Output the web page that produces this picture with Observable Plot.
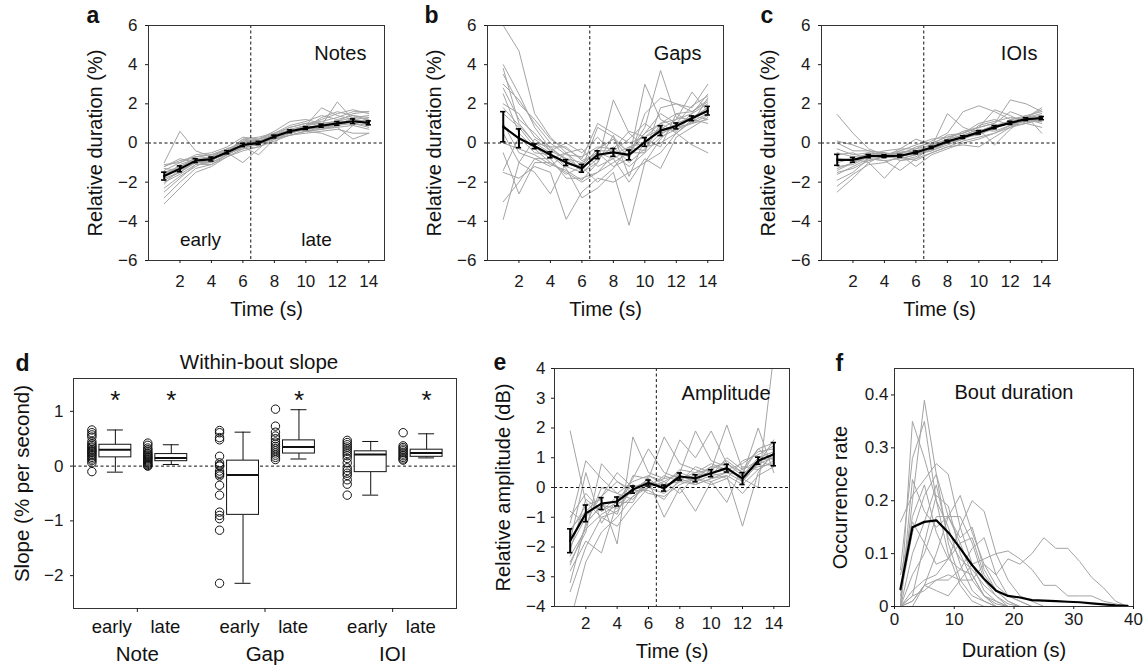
<!DOCTYPE html>
<html><head><meta charset="utf-8">
<script src="https://cdn.jsdelivr.net/npm/d3@7"></script>
<script src="https://cdn.jsdelivr.net/npm/@observablehq/plot@0.6"></script>
<style>
body{margin:0;background:#fff;}
#fig{position:relative;width:1146px;height:667px;background:#fff;overflow:hidden;}
.panel{position:absolute;}
.panel svg{display:block;max-width:none;background:transparent;}
</style></head><body><div id="fig"></div>
<script>
// ---------- data ----------
const time = [1,2,3,4,5,6,7,8,9,10,11,12,13,14];
const timeTicks = [2,4,6,8,10,12,14];

const notesMean = [-1.69,-1.32,-0.9,-0.82,-0.47,-0.1,0.0,0.33,0.6,0.76,0.88,1.0,1.11,1.03];
const notesErr  = [0.2,0.15,0.1,0.1,0.08,0.08,0.08,0.07,0.07,0.07,0.08,0.1,0.12,0.1];
const notesTraces = [
  [-1.2,-0.9,-0.7,-0.6,-0.3,0.0,0.1,0.4,0.7,0.9,1.0,1.1,1.3,1.2],
  [-2.0,-1.6,-1.1,-1.0,-0.6,-0.2,-0.1,0.3,0.5,0.7,0.9,1.0,1.1,1.0],
  [-3.1,-2.3,-1.5,-1.2,-0.7,-0.3,-0.2,0.2,0.5,0.7,0.8,0.9,1.0,0.9],
  [-1.0,0.6,-0.4,-0.7,-0.4,0.2,0.1,0.4,0.8,1.0,1.1,1.3,1.6,1.6],
  [-1.5,-1.2,-0.8,-0.9,-0.5,-1.0,-0.3,0.4,0.6,0.8,0.9,2.1,1.2,1.0],
  [-2.8,-2.0,-1.3,-1.1,-0.6,-0.2,-0.6,0.2,0.4,0.6,0.7,0.8,0.9,0.7],
  [-1.4,-1.0,-0.6,-0.5,-0.2,0.3,0.2,0.5,0.9,1.1,1.4,1.2,1.4,1.3],
  [-1.8,-1.5,-1.0,-0.9,-0.5,-0.1,0.0,0.0,0.7,0.6,0.8,1.0,1.2,1.1],
  [-2.3,-1.7,-1.2,-0.8,-0.6,-0.2,0.1,0.3,0.5,0.8,0.9,1.1,1.0,0.8],
  [-1.1,-1.0,-0.7,-0.6,-0.4,0.1,0.2,0.6,1.1,1.2,1.0,0.9,1.3,1.4],
  [-1.6,-1.2,-0.9,-0.8,-0.5,-0.3,0.0,0.2,0.4,0.5,0.6,0.7,0.5,0.5],
  [-2.1,-1.3,-0.9,-0.7,-0.3,0.0,0.1,0.4,0.6,0.9,1.2,1.5,1.7,1.5],
  [-1.3,-1.4,-1.0,-1.0,-0.6,-0.1,0.0,0.3,0.6,0.7,0.8,0.8,0.2,0.5],
  [-1.7,-1.1,-0.8,-0.7,-0.5,0.2,0.3,0.5,0.5,0.8,1.3,1.6,1.4,1.2],
  [-2.5,-1.8,-1.1,-1.1,-0.7,-0.4,-0.2,0.1,0.4,0.6,0.7,0.9,1.1,1.0],
  [-1.5,-1.3,-0.7,-0.6,-0.3,0.0,0.2,0.4,0.6,0.9,1.8,1.4,1.2,1.1],
  [-1.2,-0.8,-1.0,-0.9,-0.4,-0.1,0.1,0.2,0.7,0.6,0.5,0.2,0.9,1.3],
  [-1.9,-1.5,-0.9,-0.8,-0.5,0.1,0.0,0.5,0.8,1.0,1.0,1.1,1.5,1.6]
];

const gapsMean = [0.83,0.24,-0.17,-0.6,-1.0,-1.29,-0.6,-0.48,-0.61,0.05,0.63,0.87,1.26,1.65];
const gapsErr  = [0.77,0.48,0.12,0.15,0.15,0.2,0.2,0.2,0.25,0.22,0.25,0.15,0.12,0.22];
const gapsTraces = [
  [6.0,4.7,1.5,0.3,-0.5,-1.2,-0.3,0.2,-0.5,0.5,1.0,1.2,1.5,2.0],
  [4.0,2.5,0.8,-0.3,-0.8,-1.0,-0.5,-0.8,-0.3,0.5,1.5,1.0,1.3,1.6],
  [3.8,1.0,0.0,-0.5,-1.2,-1.5,-0.8,-0.2,-1.0,-0.3,0.5,0.8,1.0,1.4],
  [3.5,2.0,1.2,0.2,-0.3,-0.8,1.0,0.5,0.0,0.3,1.0,1.5,1.6,2.2],
  [2.5,0.5,-0.3,-1.0,-1.5,-2.0,-1.5,-1.0,-0.5,-0.5,0.3,0.7,1.0,1.2],
  [1.0,-0.5,-0.8,-0.8,-0.5,-1.5,-1.0,2.2,0.5,-0.2,0.0,0.5,1.2,1.8],
  [0.5,-1.0,-1.5,-2.6,-1.0,-1.2,-0.3,0.2,-0.8,3.0,1.2,0.8,1.5,2.5],
  [-1.4,0.3,-0.5,-0.6,-1.3,-2.8,-2.3,-1.5,-4.2,-1.0,0.2,1.0,1.3,1.8],
  [-1.5,-1.8,-1.2,-1.5,-3.9,-2.5,-1.8,-2.0,-1.5,-1.0,-0.5,0.5,1.1,1.5],
  [-3.0,-2.0,-0.8,-1.2,-0.5,-0.3,-1.2,-0.8,-2.0,-0.8,-1.3,0.3,0.8,1.3],
  [-3.9,-1.0,0.2,-0.4,-0.8,-1.3,0.8,0.3,-0.5,0.8,3.7,1.3,1.2,1.0],
  [2.0,1.5,0.3,-0.2,-0.2,-0.9,-0.5,-1.2,-0.8,1.5,2.3,2.0,1.8,3.0],
  [3.0,2.2,1.0,0.0,-0.6,-0.7,-0.2,-0.3,0.6,0.3,0.7,1.2,2.6,1.6],
  [1.5,0.8,-0.2,-0.8,-1.8,-1.8,-1.5,-0.6,-0.2,-0.4,1.0,0.5,-0.1,-0.5],
  [0.0,-0.3,-0.6,-1.1,-1.4,-1.9,-1.0,0.4,-1.7,0.2,-0.2,1.5,1.0,2.3],
  [2.8,1.2,0.5,-0.4,0.0,-0.5,0.3,-0.6,-1.2,-0.5,1.8,2.0,1.6,2.1],
  [-0.5,-2.6,-1.0,-1.0,-1.6,-1.2,-2.0,-1.3,-0.2,0.0,0.8,0.6,1.4,1.2],
  [1.8,0.9,0.0,-0.2,-0.9,-1.4,-0.4,-0.4,0.2,1.0,0.4,1.0,1.9,2.4]
];

const ioisMean = [-0.86,-0.86,-0.67,-0.67,-0.65,-0.48,-0.23,0.08,0.3,0.54,0.81,1.03,1.22,1.27];
const ioisErr  = [0.28,0.12,0.08,0.07,0.07,0.07,0.06,0.06,0.07,0.08,0.08,0.08,0.07,0.08];
const ioisTraces = [
  [1.45,0.5,-0.3,-0.6,-0.5,-0.3,0.1,0.5,1.6,1.9,1.6,1.2,1.3,1.5],
  [0.1,-0.1,-0.4,-0.5,-0.6,-0.2,0.0,0.3,0.5,0.8,1.0,2.2,2.0,1.6],
  [-0.3,-0.6,-0.5,-0.8,-0.4,-0.5,-0.3,0.0,0.2,0.5,0.8,1.0,1.1,1.2],
  [-1.5,-1.3,-0.9,-0.7,-0.8,-0.6,-0.4,0.0,0.3,0.6,0.9,1.1,1.3,1.4],
  [-1.0,-0.8,-1.0,-1.8,-0.9,-0.7,-0.3,0.2,0.4,0.7,0.6,0.9,1.2,1.0],
  [-2.5,-1.8,-1.0,-0.6,-0.5,-0.4,-0.1,0.1,0.3,0.4,0.8,1.0,1.1,1.3],
  [-1.9,-1.5,-0.8,-0.9,-1.4,-0.8,-0.5,-0.2,0.1,0.3,0.5,0.9,1.2,1.1],
  [-0.5,-0.7,-0.6,-0.4,-0.3,0.2,-0.1,0.4,0.5,0.8,1.7,1.4,1.0,0.8],
  [-1.2,-1.1,-0.7,-0.5,-0.7,-0.5,-0.2,1.5,0.8,0.5,0.7,1.2,1.4,1.6],
  [-0.8,-0.9,-0.5,-0.6,-0.6,-1.2,-0.6,-0.3,0.0,0.2,0.5,0.8,1.0,1.2],
  [0.0,-0.4,-0.4,-0.7,-0.3,-0.3,-0.1,0.2,0.4,0.7,-0.1,0.7,1.3,1.8],
  [-1.6,-1.2,-0.8,-0.9,-0.8,-0.6,-0.3,0.0,0.3,0.6,0.9,1.0,1.4,0.5],
  [-2.2,-1.6,-1.1,-1.0,-0.7,-0.5,-0.4,-0.1,0.2,0.9,1.1,1.3,1.2,1.3],
  [-1.3,-1.0,-0.7,-0.6,-0.4,-0.1,0.2,0.3,0.5,1.0,1.2,0.9,1.0,1.4],
  [-0.6,-0.5,-0.9,-0.7,-0.7,-0.9,-0.5,-0.2,-0.1,-0.2,0.3,0.8,1.2,1.1],
  [-1.4,-1.0,-0.6,-0.5,-0.9,-0.8,-0.2,0.2,0.6,0.8,1.0,1.6,1.3,1.7]
];

const ampMean = [-1.79,-0.87,-0.54,-0.47,-0.07,0.15,-0.02,0.37,0.31,0.48,0.65,0.3,0.9,1.12];
const ampErr  = [0.4,0.28,0.2,0.15,0.12,0.1,0.1,0.12,0.12,0.12,0.13,0.2,0.12,0.39];
const ampTraces = [
  [1.9,-0.5,-1.0,-0.8,0.0,0.2,0.0,0.3,0.4,0.5,0.6,0.3,0.9,1.0],
  [-1.2,0.9,0.3,-0.2,0.2,0.4,0.2,0.5,0.3,0.7,0.8,0.5,0.7,0.8],
  [-2.5,-1.5,0.8,0.2,-0.2,0.1,0.3,0.4,0.2,0.4,0.5,0.4,1.0,1.2],
  [-4.5,-2.5,-1.5,-1.0,-0.3,0.0,-0.2,0.2,0.1,0.3,0.5,0.2,0.8,1.0],
  [-2.8,-1.8,-2.2,-0.5,0.3,1.3,0.5,0.3,0.5,0.6,2.1,0.6,0.9,0.7],
  [-1.5,-0.6,-0.4,-1.9,1.7,0.5,0.3,1.6,1.0,1.9,0.8,0.4,2.0,0.5],
  [-2.0,-1.0,-0.3,0.5,0.0,0.2,-1.0,0.0,-0.8,0.2,0.4,-1.3,0.5,1.2],
  [-3.2,-1.2,-0.6,-0.7,-0.3,0.1,0.1,0.6,0.5,0.8,0.6,0.3,0.0,4.5],
  [-1.0,-0.2,-0.8,-0.3,-0.2,0.0,0.4,0.2,0.7,0.5,0.3,0.9,1.1,1.4],
  [-2.3,-1.4,-0.9,-0.6,-0.1,0.3,1.7,0.8,0.6,0.4,1.0,0.6,1.3,1.5],
  [-1.8,0.5,-1.2,-0.4,0.1,-0.2,-0.3,0.1,0.3,0.2,-0.5,0.7,0.6,0.9],
  [-2.6,-1.3,0.0,-0.2,-0.4,0.2,0.0,0.4,0.2,0.6,0.9,0.5,1.3,0.9],
  [-1.4,-0.8,-0.3,0.2,-0.1,-0.1,-0.4,0.3,0.1,0.3,0.4,0.1,0.6,1.1],
  [-3.5,-2.0,-1.0,-1.3,-0.6,0.0,0.2,-0.2,0.4,0.7,0.6,0.8,1.2,1.3],
  [-0.8,-1.2,-0.6,-0.9,0.4,0.3,-0.1,0.5,1.9,0.9,0.7,0.2,0.8,1.6],
  [-2.1,-0.4,-0.8,-0.5,-0.5,0.4,0.1,0.2,0.3,0.1,0.3,-0.2,0.4,0.7]
];

const boutBins = [1,3,5,7,9,11,13,15,17,19,21,23,25,27,29,31,33,35,37,39];
const boutMean = [0.033,0.15,0.16,0.163,0.14,0.11,0.078,0.052,0.03,0.02,0.017,0.012,0.011,0.01,0.009,0.008,0.006,0.004,0.002,0.001];
const boutTraces = [
  [0.0,0.35,0.28,0.2,0.1,0.04,0.01,0,0,0,0,0,0,0,0,0,0,0,0,0],
  [0.0,0.2,0.39,0.25,0.12,0.05,0.02,0.01,0,0,0,0,0,0,0,0,0,0,0,0],
  [0.07,0.28,0.35,0.2,0.15,0.08,0.03,0.01,0,0,0,0,0,0,0,0,0,0,0,0],
  [0.16,0.21,0.24,0.27,0.25,0.15,0.08,0.03,0.01,0,0,0,0,0,0,0,0,0,0,0],
  [0.0,0.01,0.04,0.1,0.17,0.21,0.14,0.08,0.04,0.02,0.01,0,0,0,0,0,0,0,0,0],
  [0.0,0.03,0.05,0.06,0.09,0.15,0.2,0.18,0.1,0.05,0.02,0.01,0,0,0,0,0,0,0,0],
  [0.0,0.0,0.04,0.03,0.02,0.05,0.08,0.09,0.1,0.105,0.09,0.07,0.04,0.04,0.02,0.02,0.02,0.01,0.005,0.0],
  [0.0,0.01,0.04,0.05,0.06,0.05,0.05,0.08,0.06,0.09,0.08,0.1,0.13,0.11,0.11,0.085,0.055,0.035,0.01,0.0],
  [0.02,0.14,0.21,0.25,0.17,0.12,0.06,0.02,0.005,0,0,0,0,0,0,0,0,0,0,0],
  [0.0,0.24,0.18,0.15,0.17,0.17,0.12,0.05,0.02,0,0,0,0,0,0,0,0,0,0,0],
  [0.03,0.17,0.23,0.14,0.09,0.07,0.06,0.02,0.01,0,0,0,0,0,0,0,0,0,0,0],
  [0.0,0.06,0.1,0.17,0.17,0.13,0.15,0.07,0.03,0.01,0,0,0,0,0,0,0,0,0,0],
  [0.0,0.02,0.12,0.21,0.19,0.1,0.05,0.02,0,0,0,0,0,0,0,0,0,0,0,0],
  [0.06,0.16,0.12,0.08,0.09,0.12,0.13,0.06,0.03,0.01,0,0,0,0,0,0,0,0,0,0],
  [0.0,0.1,0.16,0.23,0.13,0.09,0.07,0.04,0.02,0.005,0,0,0,0,0,0,0,0,0,0],
  [0.0,0.02,0.03,0.05,0.05,0.07,0.11,0.13,0.06,0.02,0.01,0,0,0,0,0,0,0,0,0]
];
const boutXTicks = [0,10,20,30,40];
const boutYTicks = [0,0.1,0.2,0.3,0.4];

// panel d: within-bout slope
const slopeGroups = ["Note","Gap","IOI"];
const slopePhases = ["early","late"];
const slopeWhiskerLow  = [-0.11,0.03,-2.14,0.13,-0.53,0.15];
const slopeQ1          = [0.16,0.09,-0.89,0.23,-0.11,0.17];
const slopeMedian      = [0.30,0.15,-0.16,0.35,0.21,0.24];
const slopeQ3          = [0.39,0.22,0.10,0.47,0.27,0.30];
const slopeWhiskerHigh = [0.66,0.39,0.62,1.03,0.45,0.59];
const slopeSignificant = [true,true,false,true,false,true];
const slopeNoteEarly = [0.66,0.61,0.57,0.53,0.45,0.41,0.38,0.35,0.33,0.3,0.28,0.26,0.24,0.21,0.19,0.16,0.13,0.1,0.06,-0.1];
const slopeNoteLate  = [0.42,0.38,0.33,0.3,0.27,0.24,0.22,0.2,0.18,0.16,0.15,0.13,0.11,0.09,0.07,0.05,0.03,0.01,0.0];
const slopeGapEarly  = [0.65,0.61,0.52,0.48,0.18,0.06,0.02,0.0,-0.09,-0.13,-0.15,-0.18,-0.35,-0.53,-0.84,-0.9,-0.96,-1.17,-2.14];
const slopeGapLate   = [1.04,0.73,0.62,0.55,0.5,0.44,0.4,0.36,0.32,0.28,0.24,0.2,0.16,0.12];
const slopeIoiEarly  = [0.47,0.43,0.39,0.35,0.31,0.27,0.23,0.19,0.14,0.06,-0.03,-0.08,-0.13,-0.17,-0.25,-0.33,-0.53];
const slopeIoiLate   = [0.61,0.37,0.34,0.31,0.28,0.25,0.22,0.19,0.16,0.13,0.11];
const slopeYTicks = [-2,-1,0,1];

// ---------- helpers ----------
const FONT = '"Liberation Sans", Arial, Helvetica, sans-serif';
const GRAY = "#a4a4a4";
const INK = "#111";
const fig = document.getElementById("fig");
function place(node, left, top) {
  const d = document.createElement("div");
  d.className = "panel"; d.style.left = left + "px"; d.style.top = top + "px";
  d.appendChild(node); fig.appendChild(d);
}
function tidy(traces, xs) { return traces.flatMap((vals, id) => vals.map((v, i) => ({id, x: xs[i], y: v}))); }
function txt(s, o) { return Plot.text([s], {text: d => d, fontFamily: FONT, fill: INK, ...o}); }
const intMinus = d => (d < 0 ? "\u2212" : "") + Math.abs(d);
const dashed = {stroke: INK, strokeWidth: 1, strokeDasharray: "3,2.5"};
const baseStyle = {fontFamily: FONT, fontSize: "17px", background: "transparent", color: "#1a1a1a"};

function seriesPanel(s) {
  const lines = tidy(s.traces, s.xs);
  const stats = s.mean.map((m, i) => ({x: s.xs[i], y: m, lo: s.err ? m - s.err[i] : m, hi: s.err ? m + s.err[i] : m}));
  const marks = [Plot.line(lines, {x: "x", y: "y", z: "id", stroke: GRAY, strokeWidth: 1, clip: true})];
  if (s.zero) marks.push(Plot.ruleY([0], dashed));
  if (s.split) marks.push(Plot.ruleX([6.5], dashed));
  marks.push(Plot.line(stats, {x: "x", y: "y", stroke: "#000", strokeWidth: 2.2}));
  if (s.err) {
    marks.push(
      Plot.ruleX(stats, {x: "x", y1: "lo", y2: "hi", stroke: "#000", strokeWidth: 2}),
      Plot.ruleY(stats, {y: "hi", x1: d => d.x - 0.17, x2: d => d.x + 0.17, stroke: "#000", strokeWidth: 1.6}),
      Plot.ruleY(stats, {y: "lo", x1: d => d.x - 0.17, x2: d => d.x + 0.17, stroke: "#000", strokeWidth: 1.6})
    );
  }
  marks.push(
    Plot.frame({stroke: "#333"}),
    Plot.axisX({ticks: s.xTicks, tickSize: s.xTickSize ?? 3, tickPadding: s.xPad, label: null, tickFormat: s.xFormat || intMinus}),
    Plot.axisY({ticks: s.yTicks, tickSize: s.yTickSize ?? 3, tickPadding: s.yPad, label: null, tickFormat: s.yFormat || intMinus}),
    txt(s.letter, {frameAnchor: "top-left", dx: s.letterDx, dy: s.letterDy, textAnchor: "start", lineAnchor: "bottom", fontSize: 23, fontWeight: "bold"}),
    txt(s.yLabel, {frameAnchor: "left", rotate: -90, dx: s.yLabelDx, dy: s.yLabelDy || 0, textAnchor: "middle", lineAnchor: "middle", fontSize: 20}),
    txt(s.xLabel, {frameAnchor: "bottom", dy: s.xLabelDy, textAnchor: "middle", lineAnchor: "bottom", fontSize: 20}),
    txt(s.name, {frameAnchor: s.nameAnchor, dx: s.nameDx, dy: s.nameDy, textAnchor: s.nameAnchor === "top" ? "middle" : "end", lineAnchor: "bottom", fontSize: 20}),
    ...(s.extra || [])
  );
  return Plot.plot({
    width: s.width, height: s.height,
    marginLeft: s.ml, marginRight: s.mr, marginTop: s.mt, marginBottom: s.mb,
    style: baseStyle,
    x: {domain: s.xDomain}, y: {domain: s.yDomain},
    marks
  });
}

const durTicks = [-6,-4,-2,0,2,4,6];
const topCommon = {xs: time, xTicks: timeTicks, yTicks: durTicks, xDomain: [0, 15], yDomain: [-6, 6],
  zero: true, split: true, height: 330, mt: 25, mb: 70, xPad: 11, yPad: 8,
  yLabel: "Relative duration (%)", yLabelDx: -53, xLabel: "Time (s)", xLabelDy: 55,
  letterDx: -62, letterDy: -3, nameAnchor: "top-right", nameDy: 34};

// a
place(seriesPanel({...topCommon, letter: "a", name: "Notes", nameDx: -18,
  traces: notesTraces, mean: notesMean, err: notesErr,
  width: 400, ml: 148, mr: 16,
  extra: [
    txt("early", {frameAnchor: "bottom-left", dx: 52, dy: -15, textAnchor: "middle", lineAnchor: "bottom", fontSize: 19}),
    txt("late", {frameAnchor: "bottom-left", dx: 168, dy: -15, textAnchor: "middle", lineAnchor: "bottom", fontSize: 19})
  ]}), 0, 0);

// b
place(seriesPanel({...topCommon, letter: "b", name: "Gaps", nameDx: -22, letterDx: -63,
  traces: gapsTraces, mean: gapsMean, err: gapsErr,
  width: 335, ml: 87, mr: 12}), 400, 0);

// c
place(seriesPanel({...topCommon, letter: "c", name: "IOIs", nameDx: -20, letterDx: -61,
  traces: ioisTraces, mean: ioisMean, err: ioisErr,
  width: 400, ml: 81, mr: 83}), 740, 0);

// e
place(seriesPanel({xs: time, xTicks: timeTicks, yTicks: [-4,-3,-2,-1,0,1,2,3,4], xDomain: [0, 15], yDomain: [-4, 4],
  zero: true, split: true, width: 330, height: 337, ml: 84, mr: 11, mt: 38, mb: 61, xPad: 7, yPad: 6,
  yLabel: "Relative amplitude (dB)", yLabelDx: -51, xLabel: "Time (s)", xLabelDy: 51,
  letter: "e", letterDx: -61, letterDy: 1, name: "Amplitude", nameAnchor: "top-right", nameDx: -19, nameDy: 31,
  traces: ampTraces, mean: ampMean, err: ampErr}), 470, 330);

// f
place(seriesPanel({xs: boutBins, xTicks: boutXTicks, yTicks: boutYTicks, xDomain: [0, 40], yDomain: [0, 0.45],
  zero: false, split: false, width: 346, height: 337, ml: 94, mr: 13, mt: 38, mb: 61,
  xPad: 3, yPad: 3, yTickSize: 3, xTickSize: 3,
  yFormat: d => d === 0 ? "0" : d.toFixed(1), xFormat: d => String(d),
  yLabel: "Occurrence rate", yLabelDx: -54, yLabelDy: 10, xLabel: "Duration (s)", xLabelDy: 50,
  letter: "f", letterDx: -59, letterDy: 2, name: "Bout duration", nameAnchor: "top", nameDx: 0, nameDy: 30,
  traces: boutTraces, mean: boutMean, err: null}), 800, 330);

// d
(function () {
  const phaseOffset = [-0.172, 0.266];
  const scatterShift = -0.184;
  const pointSets = [slopeNoteEarly, slopeNoteLate, slopeGapEarly, slopeGapLate, slopeIoiEarly, slopeIoiLate];
  const boxes = slopeMedian.map((m, k) => {
    const g = Math.floor(k / 2), p = k % 2;
    return {g, p, bx: g + 0.5 + phaseOffset[p], lo: slopeWhiskerLow[k], q1: slopeQ1[k], med: m, q3: slopeQ3[k], hi: slopeWhiskerHigh[k], sig: slopeSignificant[k], phase: slopePhases[p]};
  });
  const pts = boxes.flatMap((b, k) => pointSets[k].map(v => ({sx: b.bx + scatterShift, v})));
  const hw = 0.125, cw = 0.0625;
  const plot = Plot.plot({
    width: 470, height: 337, marginLeft: 73, marginRight: 14, marginTop: 48, marginBottom: 59,
    style: baseStyle,
    x: {domain: [0, 3]}, y: {domain: [-2.6, 1.6]},
    marks: [
      Plot.ruleY([0], dashed),
      Plot.ruleX(boxes, {x: "bx", y1: "lo", y2: "q1", stroke: INK}),
      Plot.ruleX(boxes, {x: "bx", y1: "q3", y2: "hi", stroke: INK}),
      Plot.ruleY(boxes, {y: "lo", x1: d => d.bx - cw, x2: d => d.bx + cw, stroke: INK}),
      Plot.ruleY(boxes, {y: "hi", x1: d => d.bx - cw, x2: d => d.bx + cw, stroke: INK}),
      Plot.rect(boxes, {x1: d => d.bx - hw, x2: d => d.bx + hw, y1: "q1", y2: "q3", fill: "white", stroke: INK}),
      Plot.ruleY(boxes, {y: "med", x1: d => d.bx - hw, x2: d => d.bx + hw, stroke: INK, strokeWidth: 2}),
      Plot.dot(pts, {x: "sx", y: "v", r: 4.2, stroke: INK, fill: "none", strokeWidth: 1}),
      Plot.text(boxes.filter(d => d.sig), {x: "bx", y: () => 1.345, text: () => "*", fontSize: 26, fontFamily: FONT, fill: INK, lineAnchor: "middle", dy: 8}),
      Plot.frame({stroke: "#333"}),
      Plot.axisX({ticks: [0.5, 1.5, 2.5], tickFormat: () => "", tickSize: 4, label: null}),
      Plot.axisY({ticks: slopeYTicks, tickSize: 3, tickPadding: 7, label: null, tickFormat: intMinus}),
      Plot.text(boxes, {x: d => d.g + 0.5 + (d.p ? 0.22 : -0.2), text: "phase", frameAnchor: "bottom", dy: 24, lineAnchor: "bottom", fontSize: 18.5, fontFamily: FONT, fill: INK}),
      Plot.text(slopeGroups, {x: (d, i) => i + 0.5, text: d => d, frameAnchor: "bottom", dy: 52, lineAnchor: "bottom", fontSize: 20.5, fontFamily: FONT, fill: INK}),
      txt("Within-bout slope", {frameAnchor: "top", dx: -6, dy: -9.5, textAnchor: "middle", lineAnchor: "bottom", fontSize: 20.5}),
      txt("Slope (% per second)", {frameAnchor: "left", rotate: -90, dx: -51, dy: -10, textAnchor: "middle", lineAnchor: "middle", fontSize: 20.5}),
      txt("d", {frameAnchor: "top-left", dx: -58, dy: -8, textAnchor: "start", lineAnchor: "bottom", fontSize: 23, fontWeight: "bold"})
    ]
  });
  place(plot, 0, 330);
})();
</script>
</body></html>
